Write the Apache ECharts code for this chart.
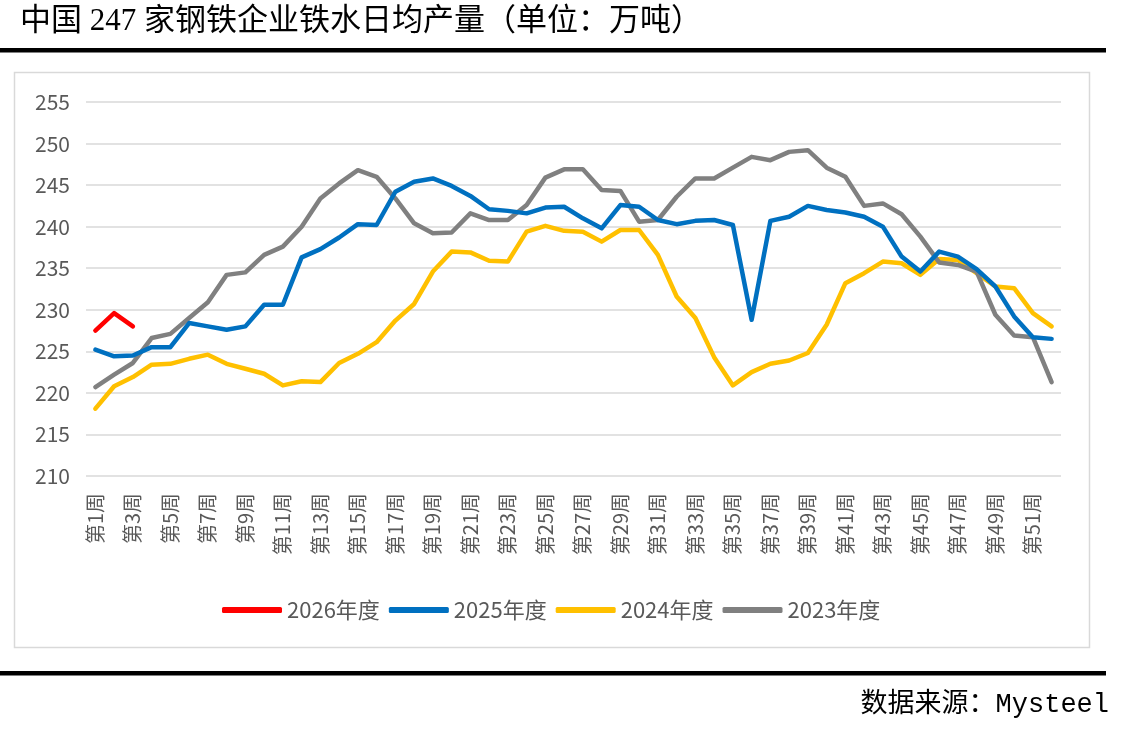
<!DOCTYPE html>
<html><head><meta charset="utf-8">
<script src="https://cdn.jsdelivr.net/npm/echarts@6/dist/echarts.min.js"></script>
<style>html,body{margin:0;padding:0;background:#fff}#c{width:1124px;height:730px}</style>
</head><body><div id="c"></div>
<script>
const weeks = Array.from({length: 52}, (_, i) => '第' + (i + 1) + '周');
const y2026 = [227.5, 229.6, 228.0];
const y2025 = [225.2,224.4,224.5,225.5,225.5,228.4,228.0,227.6,228.0,230.6,230.6,236.3,237.3,238.7,240.3,240.2,
  244.2,245.4,245.8,244.9,243.7,242.1,241.9,241.6,242.3,242.4,241.0,239.8,242.6,242.4,240.8,240.3,240.7,240.8,240.2,228.8,
  240.7,241.2,242.5,242.0,241.7,241.2,240.0,236.4,234.6,237.0,236.4,234.9,232.8,229.2,226.7,226.5];
const y2024 = [218.1,220.8,221.9,223.4,223.5,224.1,224.6,223.5,222.9,222.3,220.9,221.4,221.3,223.6,224.7,226.1,
  228.7,230.7,234.6,237.0,236.9,235.9,235.8,239.4,240.1,239.5,239.4,238.2,239.6,239.6,236.6,231.6,229.0,224.3,220.9,222.5,
  223.5,223.9,224.8,228.2,233.2,234.4,235.8,235.6,234.2,236.1,236.0,234.4,232.8,232.6,229.6,228.0];
const y2023 = [220.7,222.2,223.6,226.6,227.1,229.0,230.9,234.2,234.5,236.6,237.6,240.0,243.4,245.2,246.8,246.0,
  243.4,240.4,239.2,239.3,241.6,240.8,240.8,242.6,245.9,246.9,246.9,244.4,244.3,240.6,240.8,243.6,245.8,245.8,247.1,248.4,
  248.0,249.0,249.2,247.1,246.0,242.5,242.8,241.5,238.8,235.7,235.4,234.6,229.4,226.9,226.7,221.3];
const seriesNames = ['2026年度', '2025年度', '2024年度', '2023年度'];
const colors = ['#FF0000', '#0070C0', '#FFC000', '#808080'];
const yTicks = {min: 210, max: 255, interval: 5};

const chart = echarts.init(document.getElementById('c'));
const mk = (name, data, color, z) => ({
  name, type: 'line', data, showSymbol: false, symbol: 'none', z,
  lineStyle: {color, width: 4.5, cap: 'round', join: 'round'}, itemStyle: {color}
});
chart.setOption({
  animation: false,
  title: {text: '中国 247 家钢铁企业铁水日均产量（单位：万吨）', left: 15, top: 1,
    textStyle: {fontFamily: "'Liberation Serif','Noto Sans CJK SC'", fontWeight: 'normal', fontSize: 31, color: '#000'}},
  graphic: [
    {type: 'rect', shape: {x: 0, y: 48, width: 1106, height: 4.5}, style: {fill: '#000'}},
    {type: 'rect', shape: {x: 14.5, y: 72.5, width: 1075, height: 575}, style: {fill: 'none', stroke: '#d9d9d9', lineWidth: 1.5}},
    {type: 'rect', shape: {x: 0, y: 671, width: 1106, height: 4.5}, style: {fill: '#000'}},
    {type: 'text', right: 15, top: 691, style: {text: '数据来源：Mysteel', fontFamily: "'Liberation Mono','Noto Sans CJK SC'", fontSize: 27, fill: '#000'}}
  ],
  legend: {
    data: seriesNames, top: 594, left: 217, itemGap: 9, itemWidth: 60, itemHeight: 6, icon: 'roundRect',
    textStyle: {fontSize: 22, color: '#595959', fontFamily: 'Noto Sans CJK SC'}
  },
  grid: {left: 86, right: 63, top: 102, bottom: 254, containLabel: false},
  xAxis: {
    type: 'category', data: weeks, boundaryGap: true,
    axisLine: {show: false}, axisTick: {show: false},
    axisLabel: {interval: 1, rotate: 90, fontSize: 20, color: '#595959', margin: 17, fontFamily: 'Noto Sans CJK SC'}
  },
  yAxis: {
    type: 'value', min: yTicks.min, max: yTicks.max, interval: yTicks.interval,
    axisLine: {show: false}, axisTick: {show: false},
    axisLabel: {fontSize: 21, color: '#595959', margin: 16, fontFamily: 'Noto Sans CJK SC'},
    splitLine: {lineStyle: {color: '#d9d9d9', width: 1.5}}
  },
  series: [
    mk(seriesNames[0], y2026, colors[0], 5),
    mk(seriesNames[1], y2025, colors[1], 4),
    mk(seriesNames[2], y2024, colors[2], 2),
    mk(seriesNames[3], y2023, colors[3], 3)
  ]
});
</script></body></html>
